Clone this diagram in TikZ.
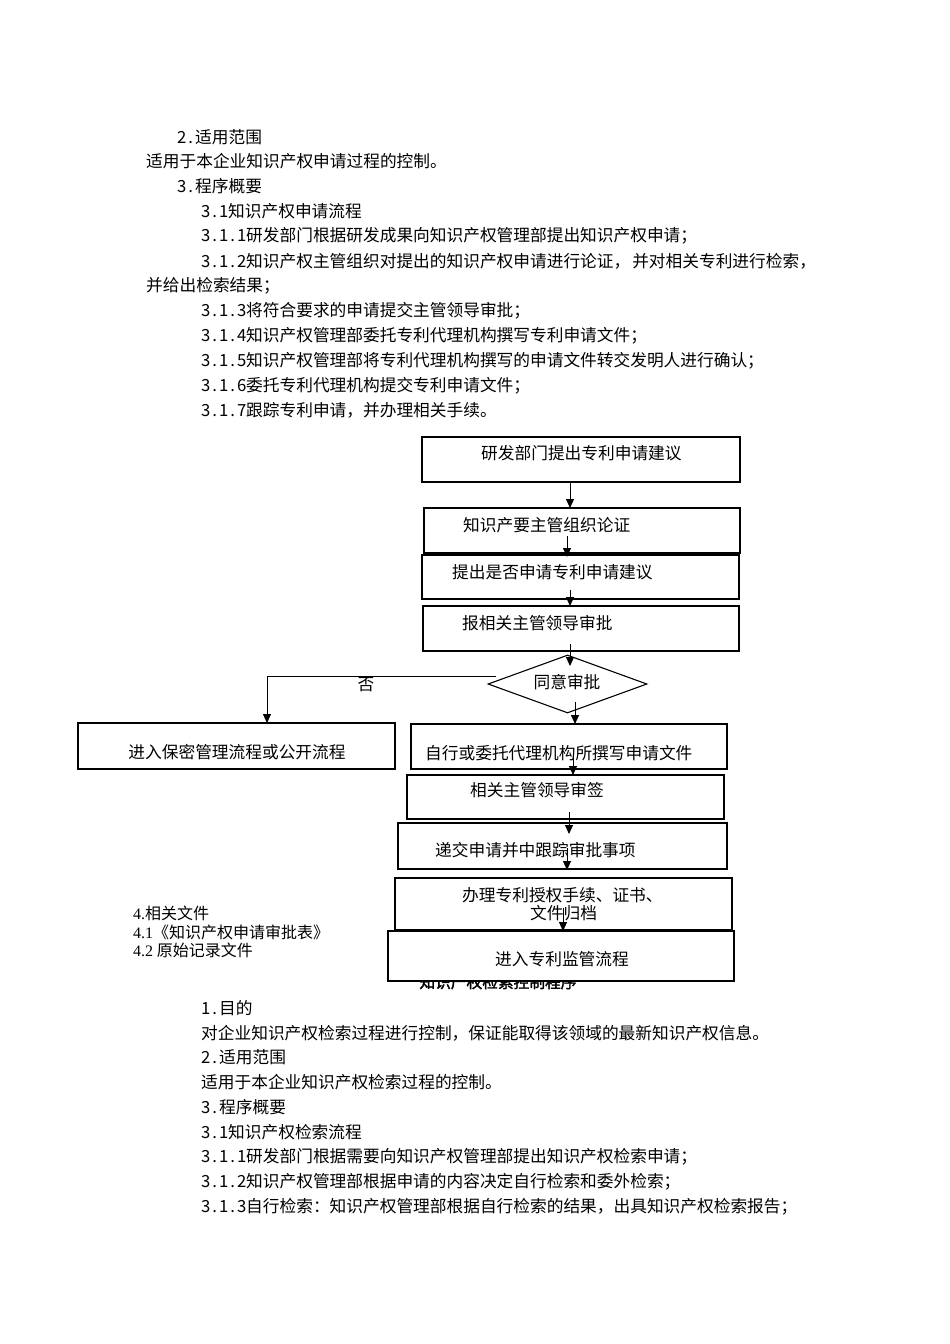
\documentclass[tikz,border=0pt]{standalone}
\usepackage{fontspec}
\setmainfont{Noto Sans CJK SC}[AutoFakeBold=2]
\newfontfamily\lat{Liberation Serif}
\usetikzlibrary{arrows.meta,shapes.geometric}
\makeatletter
\newcommand\hw[1]{\@tfor\hwx:=#1\do{\makebox[9pt][c]{\hwx}}}
\makeatother
\tikzset{
  box/.style={draw, line width=1.1pt, inner sep=0pt, outer sep=0pt, anchor=north west},
  txt/.style={inner sep=0pt, anchor=west, font=\fontsize{16.7}{18}\selectfont},
  arr/.style={-{Triangle[length=9pt,width=8pt]}, line width=1pt},
  ln/.style={line width=1pt}
}
\begin{document}
\begin{tikzpicture}[x=1pt,y=-1pt]
\useasboundingbox[fill=white] (0,0) rectangle (950,1344);

% top text
\node[txt] (p1) at (177,137) {\hw{2.}适用范围};
\node[txt] (p2) at (146,161) {适用于本企业知识产权申请过程的控制。};
\node[txt] (p3) at (177,186) {\hw{3.}程序概要};
\node[txt] (p4) at (201,211) {\hw{3.1}知识产权申请流程};
\node[txt] (p5) at (201,236) {\hw{3.1.1}研发部门根据研发成果向知识产权管理部提出知识产权申请；};
\node[txt] (p6) at (201,261) {\hw{3.1.2}知识产权主管组织对提出的知识产权申请进行论证，\kern2pt 并对相关专利进行检索，};
\node[txt] (p7) at (146,286) {并给出检索结果；};
\node[txt] (p8) at (201,311) {\hw{3.1.3}将符合要求的申请提交主管领导审批；};
\node[txt] (p9) at (201,336) {\hw{3.1.4}知识产权管理部委托专利代理机构撰写专利申请文件；};
\node[txt] (p10) at (201,361) {\hw{3.1.5}知识产权管理部将专利代理机构撰写的申请文件转交发明人进行确认；};
\node[txt] (p11) at (201,386) {\hw{3.1.6}委托专利代理机构提交专利申请文件；};
\node[txt] (p12) at (201,410) {\hw{3.1.7}跟踪专利申请，并办理相关手续。};

% heading partly hidden behind last box
\node[inner sep=0pt, font=\fontsize{15.7}{17}\selectfont\bfseries] (hd) at (498,982) {知识产权检索控制程序};

% boxes
\node[box, minimum width=318pt, minimum height=45pt] (b1) at (422,437) {};
\node[box, minimum width=316pt, minimum height=45pt] (b2) at (424,508) {};
\node[box, minimum width=317pt, minimum height=44pt] (b3) at (422,555) {};
\node[box, minimum width=316pt, minimum height=45pt] (b4) at (423,606) {};
\node[diamond, draw, line width=1.1pt, inner sep=0pt, minimum width=159pt, minimum height=58pt,
      font=\fontsize{16.7}{18}\selectfont] (d) at (567.5,684) {};
\node[box, minimum width=316pt, minimum height=45pt] (b5) at (411,724) {};
\node[box, minimum width=317pt, minimum height=46pt] (b6) at (78,723) {};
\node[box, minimum width=317pt, minimum height=44pt] (b7) at (407,775) {};
\node[box, minimum width=329pt, minimum height=46pt] (b8) at (398,823) {};
\node[box, minimum width=337pt, minimum height=52pt] (b9) at (395,878) {};
\node[box, fill=white, minimum width=346pt, minimum height=50pt] (b10) at (388,931) {};

% box texts
\node[txt] (t1) at (481,453) {研发部门提出专利申请建议};
\node[txt] (t2) at (463,525) {知识产要主管组织论证};
\node[txt] (t3) at (452,572) {提出是否申请专利申请建议};
\node[txt] (t4) at (462,623) {报相关主管领导审批};
\node[txt, anchor=center] (td) at (567,682) {同意审批};
\node[txt] (t5) at (425,753) {自行或委托代理机构所撰写申请文件};
\node[txt, anchor=center] (t6) at (237,752) {进入保密管理流程或公开流程};
\node[txt] (t7) at (470,790) {相关主管领导审签};
\node[txt] (t8) at (435,850) {递交申请并中跟踪审批事项};
\node[txt] (t9a) at (462,895) {办理专利授权手续、证书、};
\node[txt] (t9b) at (530,913) {文件归档};
\node[txt] (t10) at (495,959) {进入专利监管流程};
\node[txt, anchor=center] (no) at (366,685) {否};

% related documents
\node[txt, font=\fontsize{16}{18}\selectfont] (r1) at (133,913) {{\lat 4.}相关文件};
\node[txt, font=\fontsize{16}{18}\selectfont] (r2) at (133,932) {{\lat 4.1}《知识产权申请审批表》};
\node[txt, font=\fontsize{16}{18}\selectfont] (r3) at (133,950) {{\lat 4.2} 原始记录文件};

% bottom text
\node[txt] (q1) at (201,1008) {\hw{1.}目的};
\node[txt] (q2) at (201,1033) {对企业知识产权检索过程进行控制，保证能取得该领域的最新知识产权信息。};
\node[txt] (q3) at (201,1057) {\hw{2.}适用范围};
\node[txt] (q4) at (201,1082) {适用于本企业知识产权检索过程的控制。};
\node[txt] (q5) at (201,1107) {\hw{3.}程序概要};
\node[txt] (q6) at (201,1132) {\hw{3.1}知识产权检索流程};
\node[txt] (q7) at (201,1157) {\hw{3.1.1}研发部门根据需要向知识产权管理部提出知识产权检索申请；};
\node[txt] (q8) at (201,1182) {\hw{3.1.2}知识产权管理部根据申请的内容决定自行检索和委外检索；};
\node[txt] (q9) at (201,1207) {\hw{3.1.3}自行检索：知识产权管理部根据自行检索的结果，出具知识产权检索报告；};

% connector coordinates
\coordinate (a1s) at (570,482);  \coordinate (a1e) at (570,508);
\coordinate (a2s) at (567,536);  \coordinate (a2e) at (567,557);
\coordinate (a3s) at (570,590);  \coordinate (a3e) at (570,606);
\coordinate (a4s) at (570,644);  \coordinate (a4e) at (570,666);
\coordinate (a5s) at (575,702);  \coordinate (a5e) at (575,724);
\coordinate (a6s) at (573,757);  \coordinate (a6e) at (573,775);
\coordinate (a7s) at (569,812);  \coordinate (a7e) at (569,834);
\coordinate (a8s) at (567,848);  \coordinate (a8e) at (567,870);
\coordinate (a9s) at (563,908);  \coordinate (a9e) at (563,931);
\coordinate (ns) at (496,676);   \coordinate (nc) at (267,676);  \coordinate (ne) at (267,723);

\draw[arr] (a1s) -- (a1e);
\draw[arr] (a2s) -- (a2e);
\draw[arr] (a3s) -- (a3e);
\draw[arr] (a4s) -- (a4e);
\draw[arr] (a5s) -- (a5e);
\draw[arr] (a6s) -- (a6e);
\draw[arr] (a7s) -- (a7e);
\draw[arr] (a8s) -- (a8e);
\draw[arr] (a9s) -- (a9e);
\draw[arr] (ns) -- (nc) -- (ne);
\end{tikzpicture}
\end{document}
